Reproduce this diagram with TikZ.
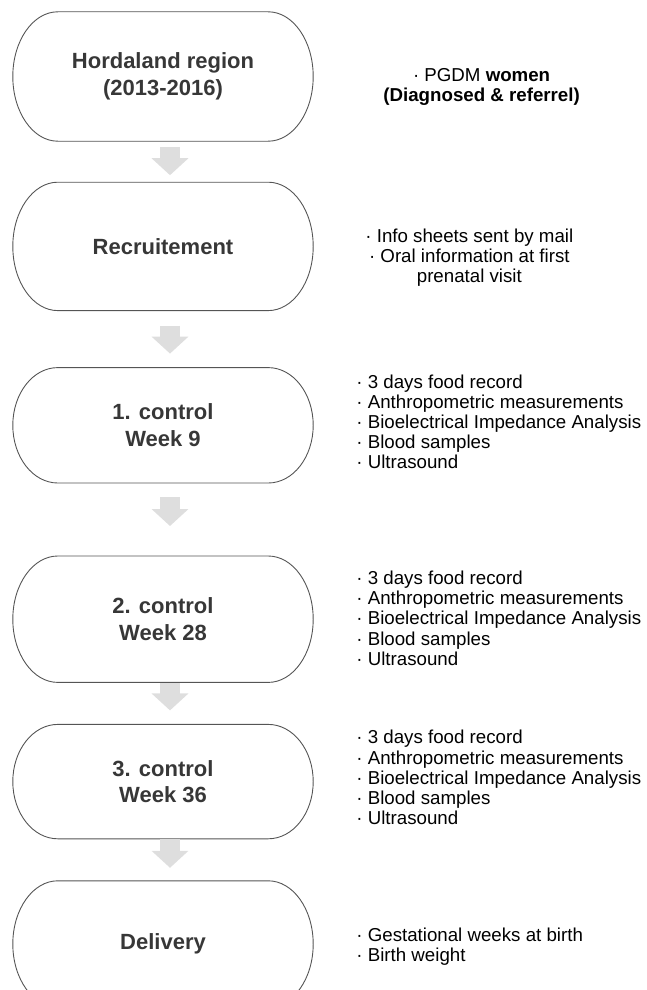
\documentclass[tikz,border=0pt]{standalone}
\usepackage{fontspec}
\setmainfont{Liberation Sans}
\usepackage{xcolor}
\usepackage{tikz}
\usetikzlibrary{positioning, calc, arrows.meta}
\definecolor{stagegray}{RGB}{55, 55, 55}
\definecolor{edgegray}{RGB}{85, 85, 85}
\definecolor{arrowgray}{RGB}{222, 222, 222}

% pill outline with elliptic ends round a stage node
\newcommand{\stageoutline}[1]{%
  \draw[edgegray, line width=0.9pt] let \p1=(#1.north), \p2=(#1.south), \n1={(\y1-\y2)/2} in
    ([xshift=45pt]#1.north west) -- ([xshift=-45pt]#1.north east)
    arc[start angle=90, end angle=-90, x radius=45pt, y radius=\n1]
    -- ([xshift=45pt]#1.south west)
    arc[start angle=270, end angle=90, x radius=45pt, y radius=\n1] -- cycle;}

\begin{document}
\begin{tikzpicture}[x=1pt, y=1pt, every node/.style={inner sep=0pt}, align=center]
  % Styles
  \tikzstyle{stage} = [rectangle, minimum width=300pt, text=stagegray, font=\fontsize{22}{26.5}\selectfont\bfseries]
  \tikzstyle{note} = [text=black, font=\fontsize{18.7}{20.2}\selectfont]
  \tikzstyle{flow} = [line width=20pt, arrowgray, -{Triangle[width=36pt, length=17pt]}]

  % Frame
  \useasboundingbox (0,0) rectangle (646,-990);
  \clip (0,0) rectangle (646,-990);

  % Stages
  \node (region) [stage, minimum height=129pt] at (163,-76.5) {Hordaland region \\ (2013-2016)};
  \node (recruit) [stage, minimum height=128pt, below=41pt of region] {Recruitement};
  \node (ctrl1) [stage, minimum height=115pt, below=57pt of recruit] {1. control \\ Week 9};
  \node (ctrl2) [stage, minimum height=126pt, below=73pt of ctrl1] {2. control \\ Week 28};
  \node (ctrl3) [stage, minimum height=114pt, below=42pt of ctrl2] {3. control \\ Week 36};
  \node (delivery) [stage, minimum height=126pt, below=42pt of ctrl3] {Delivery};

  \foreach \stg in {region, recruit, ctrl1, ctrl2, ctrl3, delivery}
    \stageoutline{\stg};

  % Flow arrows
  \foreach \a/\b/\s/\e in {region/recruit/6/7, recruit/ctrl1/15/14, ctrl1/ctrl2/14/30,
                          ctrl2/ctrl3/1/14, ctrl3/delivery/0/13}
    \draw [flow, shorten <=\s pt, shorten >=\e pt] ([xshift=7pt]\a.south) -- ([xshift=7pt]\b.north);

  % Notes
  \node (regionnote) [note, right=70pt of region, yshift=-10.5pt] {· PGDM \textbf{women} \\ \textbf{(Diagnosed \& referrel)}};
  \node (recruitnote) [note, right=52pt of recruit, yshift=-11pt] {· Info sheets sent by mail \\ · Oral information at first \\ prenatal visit};
  \node (ctrl1note) [note, align=left, right=43pt of ctrl1, yshift=3.5pt] {· 3 days food record \\ · Anthropometric measurements \\ · Bioelectrical Impedance Analysis \\ · Blood samples \\ · Ultrasound};
  \node (ctrl2note) [note, align=left, right=43pt of ctrl2, yshift=1pt] {· 3 days food record \\ · Anthropometric measurements \\ · Bioelectrical Impedance Analysis \\ · Blood samples \\ · Ultrasound};
  \node (ctrl3note) [note, align=left, right=43pt of ctrl3, yshift=4pt] {· 3 days food record \\ · Anthropometric measurements \\ · Bioelectrical Impedance Analysis \\ · Blood samples \\ · Ultrasound};
  \node (deliverynote) [note, align=left, right=43pt of delivery, yshift=-3pt] {· Gestational weeks at birth \\ · Birth weight};
\end{tikzpicture}
\end{document}
